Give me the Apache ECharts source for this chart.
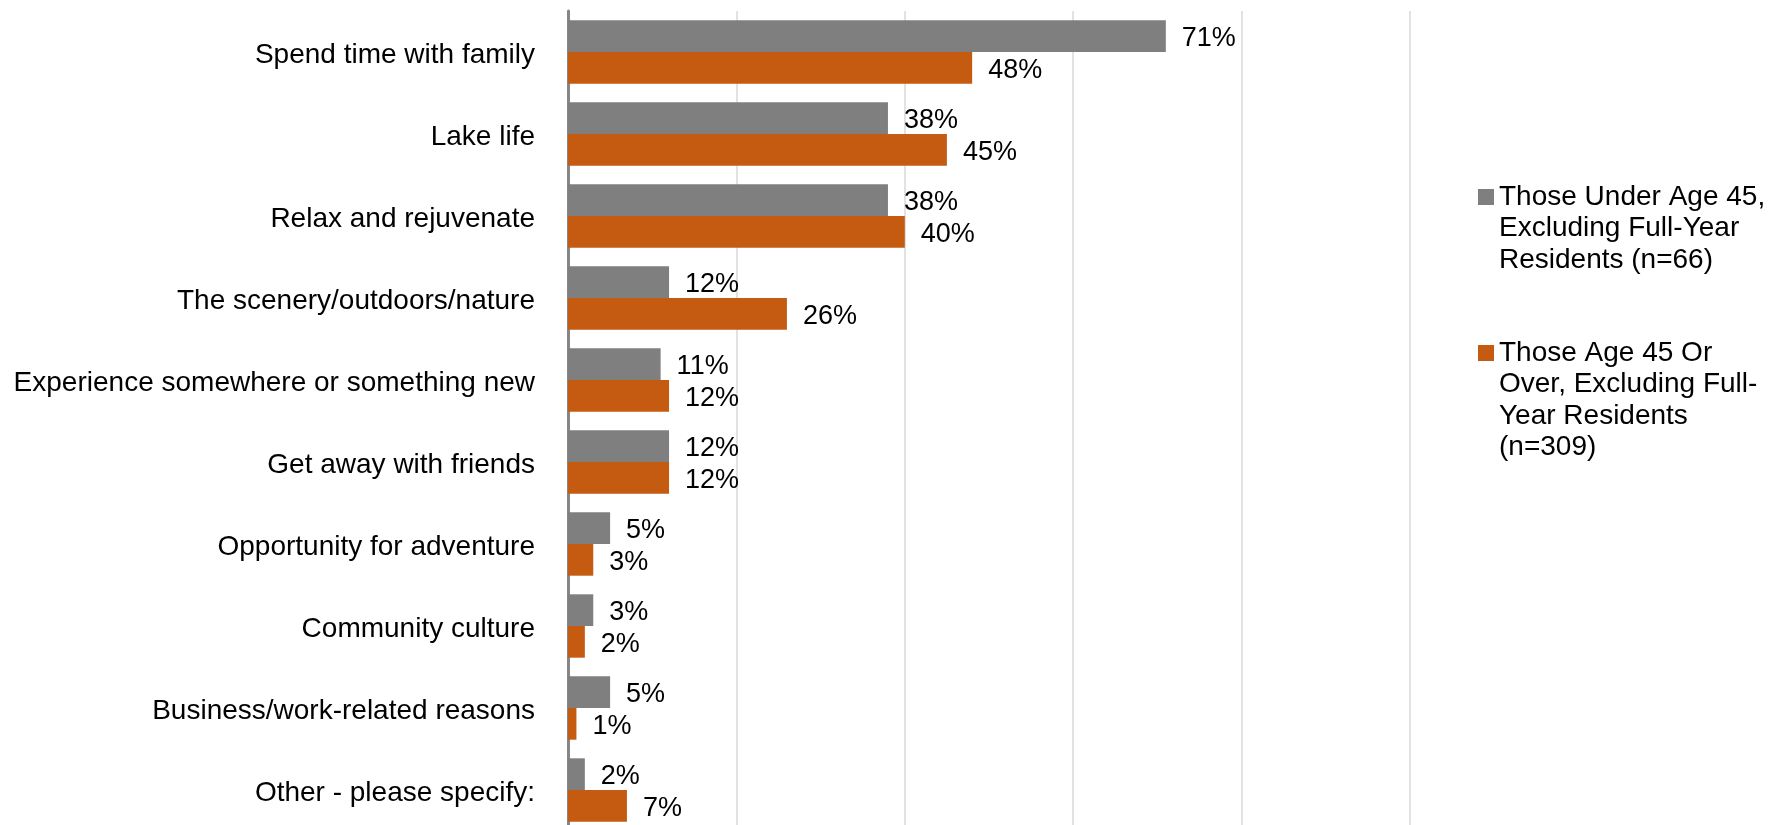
<!DOCTYPE html>
<html><head><meta charset="utf-8">
<script src="https://cdn.jsdelivr.net/npm/echarts@6/dist/echarts.min.js"></script>
<style>html,body{margin:0;padding:0;background:#fff}#c{width:1780px;height:825px}</style>
</head><body><div id="c"></div>
<script>
const categories = ["Spend time with family","Lake life","Relax and rejuvenate","The scenery/outdoors/nature","Experience somewhere or something new","Get away with friends","Opportunity for adventure","Community culture","Business/work-related reasons","Other - please specify:"];
const seriesNames = ["Those Under Age 45, Excluding Full-Year Residents (n=66)","Those Age 45 Or Over, Excluding Full-Year Residents (n=309)"];
const under45 = [71,38,38,12,11,12,5,3,5,2];
const over45 = [48,45,40,26,12,12,3,2,1,7];
const legendLines = [["Those Under Age 45,","Excluding Full-Year","Residents (n=66)"],["Those Age 45 Or","Over, Excluding Full-","Year Residents","(n=309)"]];

const FONT = "Liberation Sans, Arial, sans-serif";
const LH = 31.5;
const chart = echarts.init(document.getElementById('c'));
const lbl = {show:true, position:'right', distance:16, offset:[0,2.5], formatter:'{c}%', color:'#000', fontSize:27, fontFamily:FONT};
function legendItem(i, centerY){
  const n = legendLines[i].length;
  const blank = new Array(n-1).fill('');
  return {
    orient:'vertical', left:1478, top: centerY - (2*n-1)*LH/2,
    itemWidth:16, itemHeight:16, icon:'rect', padding:0,
    data:[seriesNames[i]],
    formatter: () => blank.concat(legendLines[i]).join('\n'),
    textStyle:{fontSize:28, lineHeight:LH, color:'#000', fontFamily:FONT},
    selectedMode:false
  };
}
chart.setOption({
  animation:false,
  textStyle:{fontFamily:FONT},
  grid:{left:568, top:11, right:370, bottom:-6, containLabel:false, outerBoundsMode:'none'},
  legend:[legendItem(0,197), legendItem(1,353)],
  xAxis:{type:'value', min:0, max:100, interval:20,
    axisLabel:{show:false}, axisLine:{show:false}, axisTick:{show:false},
    splitLine:{lineStyle:{color:'#d9d9d9', width:1.5}}},
  yAxis:{type:'category', data:categories, inverse:true,
    axisLine:{lineStyle:{color:'#868686', width:3}}, axisTick:{show:false},
    axisLabel:{fontSize:28, color:'#000', margin:33, fontFamily:FONT, verticalAlign:'top', lineHeight:7}},
  series:[
    {name:seriesNames[0], type:'bar', data:under45, barGap:'0%', barCategoryGap:'22.7%',
     itemStyle:{color:'#7f7f7f'}, label:lbl},
    {name:seriesNames[1], type:'bar', data:over45, barGap:'0%', barCategoryGap:'22.7%',
     itemStyle:{color:'#c55a11'}, label:lbl}
  ]
});
</script></body></html>
